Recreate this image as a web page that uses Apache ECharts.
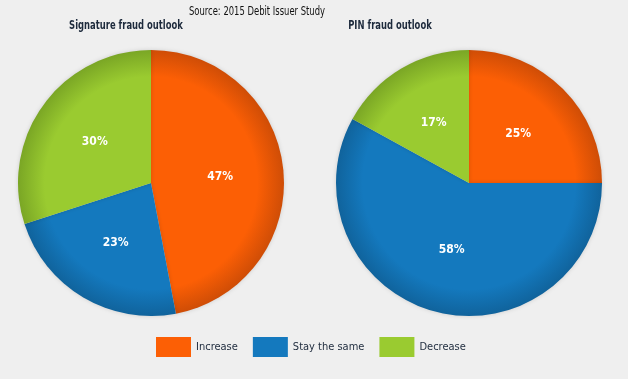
<!DOCTYPE html>
<html><head><meta charset="utf-8">
<script src="https://cdn.jsdelivr.net/npm/echarts@6/dist/echarts.min.js"></script>
<style>html,body{margin:0;padding:0;background:#efefef;}#c{width:628px;height:379px;}</style>
</head><body><div id="c"></div>
<script>
const categories = ['Increase', 'Stay the same', 'Decrease'];
const signatureValues = [47, 23, 30];
const pinValues = [25, 58, 17];
const chartTitles = ['Signature fraud outlook', 'PIN fraud outlook'];
const sourceText = 'Source: 2015 Debit Issuer Study';

const baseColors = ['#fc5f05', '#1479be', '#9acb30'];
const edgeColors = ['#cf4d06', '#10639c', '#7aa625'];
const FONT = '"DejaVu Sans Condensed", "Liberation Sans Narrow", sans-serif';

function grad(i, cx, cy, r) {
  return {type: 'radial', x: cx, y: cy, r: r, global: true,
    colorStops: [{offset: 0, color: baseColors[i]}, {offset: 0.8, color: baseColors[i]}, {offset: 1, color: edgeColors[i]}]};
}
function pieSeries(name, values, cx, cy, r) {
  return {
    type: 'pie', name: name, center: [cx, cy], radius: [0, r], startAngle: 90, clockwise: true,
    silent: true, animation: false,
    label: {show: true, position: 'inside', formatter: '{c}%', color: '#ffffff', fontFamily: FONT, fontWeight: 'bold', fontSize: 12},
    labelLine: {show: false},
    itemStyle: {borderWidth: 0, shadowBlur: 4, shadowColor: 'rgba(0,0,0,0.15)'},
    data: values.map((v, i) => ({name: categories[i], value: v, itemStyle: {color: grad(i, cx, cy, r)}}))
  };
}
function textEl(text, x, y, size, weight, color, sx) {
  return {type: 'text', x: x, y: y, scaleX: sx, silent: true,
    style: {text: text, fill: color, font: weight + ' ' + size + 'px ' + FONT, textAlign: 'center', textVerticalAlign: 'middle'}};
}
const chart = echarts.init(document.getElementById('c'), null, {renderer: 'canvas'});
chart.setOption({
  backgroundColor: '#efefef',
  color: baseColors,
  graphic: [
    textEl(sourceText, 257, 12, 12, 'normal', '#111111', 0.78),
    textEl(chartTitles[0], 126, 26, 13, 'bold', '#1d2a3c', 0.72),
    textEl(chartTitles[1], 390, 26, 13, 'bold', '#1d2a3c', 0.72)
  ],
  legend: {
    data: categories.map((c, i) => ({name: c, itemStyle: {color: baseColors[i]}})),
    left: 151, top: 332, itemWidth: 35, itemHeight: 20, itemGap: 15, icon: 'rect',
    textStyle: {fontFamily: FONT, fontSize: 11, color: '#1d2a3c'}
  },
  series: [
    pieSeries(chartTitles[0], signatureValues, 151, 183, 133),
    pieSeries(chartTitles[1], pinValues, 469, 183, 133)
  ]
});
</script></body></html>
